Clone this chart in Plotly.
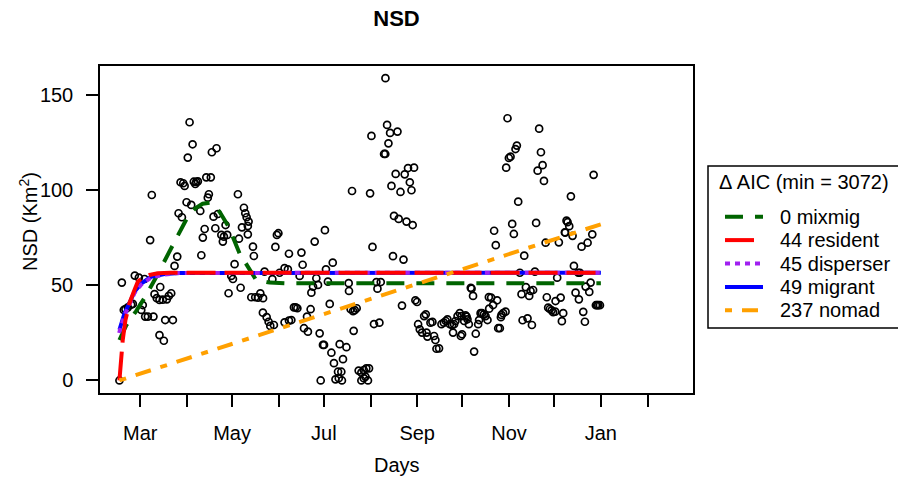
import pandas as pd
import plotly.graph_objects as go

ORIGIN = pd.Timestamp("2009-03-01")

# observed NSD: days since 1 March, NSD (Km^2)
obs_day = [-13.8, -12.2, -9.8, -8.2, -6.0, -4.9, -10.9, -3.6, -0.9, 2.9, 0.7, 1.7, 3.3, 5.1, 8.8,
           6.6, 7.7, 9.5, 11.0, 12.8, 15.0, 17.7, 19.0, 20.6, 13.3, 16.6, 21.7, 12.8, 15.7,
           22.8, 24.6, 25.5, 27.7, 26.8, 28.6, 29.5, 31.6, 32.8, 34.8, 30.8, 33.9, 35.6, 37.2,
           38.3, 36.6, 39.9, 40.6, 41.6, 42.8, 43.9, 46.9, 45.6, 44.9, 47.6, 50.7, 48.7, 51.6,
           49.9, 53.9, 55.6, 57.8, 54.9, 56.7, 58.7, 60.5, 61.6, 62.7, 65.6, 64.9, 66.7, 67.6,
           68.9, 69.8, 70.7, 72.0, 71.5, 71.5, 74.9, 75.5, 73.8, 76.4, 78.3, 79.8, 81.6, 81.5,
           84.0, 85.3, 86.4, 88.8, 87.8, 82.6, 89.8, 90.8, 91.8, 92.6, 95.9, 98.1, 98.8, 102.1,
           103.3, 104.4, 95.9, 98.8, 100.4, 113.2, 110.8, 108.8, 111.4, 107.1, 107.9, 105.9,
           115.9, 117.0, 118.1, 114.8, 113.7, 122.7, 123.4, 127.9, 124.7, 125.9, 119.2, 121.4,
           122.1, 119.9, 127.0, 128.7, 132.5, 137.0, 134.7, 131.4, 133.6, 129.7, 131.9, 134.0,
           138.5, 138.7, 139.8, 141.4, 142.5, 143.8, 141.8, 140.7, 145.1, 146.9, 148.5, 150.2,
           152.0, 146.9, 148.5, 149.6, 151.3, 152.7, 153.6, 154.3, 155.3, 156.9, 159.8, 157.6,
           158.9, 162.0, 162.8, 162.9, 164.0, 166.0, 170.9, 164.9, 166.9, 169.7, 175.7, 172.9,
           177.9, 181.9, 179.1, 180.2, 168.6, 171.7, 176.9, 181.0, 167.9, 174.9, 173.9, 182.8,
           183.9, 184.6, 185.7, 187.2, 188.6, 189.7, 190.2, 190.8, 192.8, 194.1, 195.2, 196.1,
           196.8, 198.5, 200.1, 201.7, 203.0, 204.1, 205.7, 207.2, 208.5, 209.4, 210.8, 212.3,
           213.4, 207.8, 213.0, 213.8, 215.2, 216.1, 216.8, 217.4, 218.3, 219.6, 220.1, 221.1,
           221.8, 222.9, 224.5, 225.1, 226.1, 227.1, 228.3, 229.4, 230.7, 231.6, 233.1, 234.4,
           237.1, 231.8, 240.0, 241.1, 242.7, 239.6, 237.8, 238.9, 235.1, 236.2, 248.2, 255.1,
           252.2, 262.2, 253.3, 256.2, 258.4, 259.3, 261.0, 254.0, 257.3, 260.2, 269.3, 270.1,
           271.0, 272.1, 273.3, 274.3, 275.7, 275.9, 279.3, 277.0, 278.1, 281.0, 280.1, 282.3,
           287.2, 288.1, 289.2, 291.4, 291.0, 292.1, 293.2, 294.3, 295.4, 295.9, 297.2, 298.3,
           299.2, 300.3, 302.7, 303.5, 304.3, 305.4, 244.0, 265.0, 250.2, 249.3, 246.0, 244.9,
           266.2, 267.3, 264.0, 268.2, 243.1, 301.2, 251.1, 286.1, 283.2, 283.9, 285.0, 282.1,
           263.0, 247.1]
obs_nsd = [0.0, 51.5, 37.5, 38.5, 39.9, 40.3, 37.1, 55.2, 54.1, 53.4, 37.1, 39.7, 33.6, 33.6, 33.6,
           73.9, 97.6, 45.4, 43.3, 42.4, 42.5, 42.7, 44.5, 45.9, 49.2, 31.8, 31.8, 23.9, 20.9,
           60.3, 65.2, 88.0, 85.9, 104.3, 103.8, 102.4, 117.3, 135.9, 124.3, 93.8, 92.4, 104.6, 104.5,
           104.8, 103.4, 89.2, 65.9, 75.2, 79.7, 106.9, 106.9, 98.0, 96.2, 120.1, 122.2, 86.2, 87.6,
           80.1, 76.6, 75.7, 76.6, 73.1, 81.8, 45.9, 55.0, 53.4, 61.2, 74.6, 98.0, 48.8, 80.6,
           90.9, 88.0, 85.9, 83.6, 81.3, 76.9, 70.4, 65.5, 43.8, 43.8, 43.6, 45.8, 43.3, 35.7,
           33.3, 30.9, 28.7, 29.2, 53.3, 57.3, 70.3, 76.6, 77.5, 56.7, 59.1, 58.5, 66.7, 38.5,
           38.5, 38.0, 30.6, 31.5, 31.8, 37.5, 33.6, 27.5, 25.7, 67.3, 60.9, 55.0,
           73.1, 53.8, 50.3, 49.4, 46.2, 79.1, 58.5, 62.0, 52.0, 40.3, 24.8, 18.7,
           18.7, 0.0, 14.6, 9.1, 19.1, 17.5, 11.2, 4.6, 4.6, 0.6, 1.2, 0.0,
           51.2, 47.1, 37.5, 36.5, 37.0, 38.0, 26.1, 99.7, 5.2, 4.1, 5.5, 6.4,
           6.4, 0.0, 1.2, 2.0, 0.0, 98.5, 128.7, 70.3, 29.7, 51.8, 51.8, 48.3,
           30.4, 119.2, 119.2, 159.1, 134.5, 130.3, 131.0, 124.8, 102.4, 108.7, 108.5, 99.2,
           111.8, 112.0, 104.3, 100.1, 86.6, 85.0, 83.6, 81.8, 65.4, 63.6, 39.4, 42.2,
           41.3, 29.6, 26.9, 25.2, 33.9, 34.8, 25.2, 23.1, 30.4, 30.8, 23.4, 21.3,
           16.7, 16.9, 29.6, 30.4, 31.3, 32.2, 29.6, 29.1, 29.6, 31.3, 33.9, 35.4,
           33.9, 25.2, 23.4, 24.3, 31.3, 34.3, 33.6, 32.2, 29.6, 48.8, 48.3, 44.5,
           15.2, 24.6, 29.6, 31.8, 35.4, 35.4, 34.8, 33.9, 31.8, 43.9, 43.6, 39.7,
           42.2, 37.8, 34.5, 35.4, 36.2, 33.3, 27.5, 27.5, 78.8, 71.2, 77.1, 65.7,
           56.7, 57.3, 45.4, 49.1, 44.5, 47.1, 47.6, 31.7, 32.7, 29.2, 72.5, 43.8,
           38.3, 37.6, 36.9, 35.9, 36.2, 41.8, 43.6, 54.1, 72.7, 35.4, 31.2, 77.8,
           76.1, 60.3, 46.2, 42.7, 56.7, 56.7, 70.4, 36.1, 30.9, 49.4, 72.5, 46.6,
           51.5, 76.9, 39.6, 39.6, 39.6, 39.6, 138.0, 132.5, 123.6, 121.8, 117.8, 117.1,
           120.1, 113.3, 110.4, 105.0, 112.0, 108.2, 94.1, 96.9, 84.1, 83.3, 81.2, 78.0,
           82.9, 82.4]

# fitted model curves (days since 1 March, NSD)
mixmig_day = [-13.8, -9.3, -2.7, 2.5, 10.0, 16.2, 21.7, 31.6, 36.6, 41.5, 46.7, 52.7, 58.7, 66.0,
              72.7, 77.0, 86.0, 97.0, 306.0]
mixmig_nsd = [21.3, 29.0, 36.5, 43.0, 53.5, 63.4, 71.3, 86.2, 90.6, 93.0, 93.6, 88.8, 80.9, 66.9,
              58.2, 52.9, 51.5, 51.1, 51.1]
resident_day = [-13.8, -11.6, -9.8, -7.1, -3.8, -1.6, 1.1, 6.2, 11.7, 20.0, 306.0]
resident_nsd = [0.0, 21.3, 31.8, 40.8, 47.6, 52.0, 53.8, 55.5, 56.4, 56.7, 56.7]
disperser_day = [-14.0, -10.6, -7.1, -3.8, 0.7, 7.3, 16.2, 26.0, 306.0]
disperser_nsd = [25.0, 34.0, 40.0, 46.0, 50.5, 54.2, 55.8, 56.6, 56.7]
migrant_day = [-13.8, -10.4, -7.1, -3.8, 0.7, 7.3, 16.2, 26.0, 306.0]
migrant_nsd = [26.6, 35.4, 40.8, 46.7, 51.0, 54.6, 56.0, 56.6, 56.7]
nomad_day = [-13.8, 306.0]
nomad_nsd = [0.0, 82.2]

legend_title = "\u0394 AIC (min = 3072)"
legend_labels = ["0 mixmig", "44 resident", "45 disperser", "49 migrant", "237 nomad"]

label_ticks = pd.date_range("2009-03-01", "2010-01-01", freq="2MS")
label_text = ["Mar", "May", "Jul", "Sep", "Nov", "Jan"]
minor_ticks = pd.date_range("2009-04-01", "2010-02-01", freq="2MS")


def to_dates(days):
    return [ORIGIN + pd.Timedelta(days=d) for d in days]


FONT = "Liberation Sans, Arial, Helvetica, sans-serif"
FS = 20
W, H = 898, 483
L, R, T, B = 100, 205, 66, 90
PW, PH = W - L - R, H - T - B


def px(x):
    return (x - L) / PW


def py(y):
    return (H - B - y) / PH


styles = [
    dict(color="#006400", dash="18px,12px"),       # mixmig
    dict(color="#ff0000", dash="29px,9px"),        # resident
    dict(color="#a020f0", dash="5px,5px"),         # disperser
    dict(color="#0000ff", dash="solid"),           # migrant
    dict(color="#ffa000", dash="7px,10px,16px,10px"),  # nomad
]
LW = 4

fig = go.Figure()
fig.add_trace(go.Scatter(
    x=to_dates(obs_day), y=obs_nsd, mode="markers",
    marker=dict(symbol="circle-open", size=7, color="black", line=dict(width=1.7, color="black")),
    showlegend=False, hoverinfo="skip"))

curves = [
    (mixmig_day, mixmig_nsd, styles[0]),
    (migrant_day, migrant_nsd, styles[3]),
    (disperser_day, disperser_nsd, styles[2]),
    (resident_day, resident_nsd, styles[1]),
    (nomad_day, nomad_nsd, styles[4]),
]
for d, v, st in curves:
    fig.add_trace(go.Scatter(x=to_dates(d), y=v, mode="lines",
                             line=dict(color=st["color"], dash=st["dash"], width=LW),
                             showlegend=False, hoverinfo="skip"))

shapes = []
annotations = []
# legend box
shapes.append(dict(type="rect", xref="paper", yref="paper",
                   x0=px(708), x1=px(910), y0=py(328), y1=py(166),
                   line=dict(color="black", width=1.5), fillcolor="rgba(0,0,0,0)"))
annotations.append(dict(text=legend_title, xref="paper", yref="paper", x=px(717), y=py(182),
                        xanchor="left", yanchor="middle", showarrow=False,
                        font=dict(family=FONT, size=FS, color="black")))
for i, (lab, st) in enumerate(zip(legend_labels, styles)):
    yy = 216.7 + i * 23.4
    shapes.append(dict(type="line", xref="paper", yref="paper",
                       x0=px(725), x1=px(763), y0=py(yy), y1=py(yy),
                       line=dict(color=st["color"], dash=st["dash"], width=LW)))
    annotations.append(dict(text=lab, xref="paper", yref="paper", x=px(778), y=py(yy),
                            xanchor="left", yanchor="middle", showarrow=False,
                            font=dict(family=FONT, size=FS, color="black")))

annotations.append(dict(text="Days", xref="paper", yref="paper", x=0.5, y=py(465),
                        xanchor="center", yanchor="middle", showarrow=False,
                        font=dict(family=FONT, size=FS, color="black")))
annotations.append(dict(text="NSD (Km<sup>2</sup>)", xref="paper", yref="paper", x=px(28), y=py(222),
                        xanchor="center", yanchor="middle", showarrow=False, textangle=-90,
                        font=dict(family=FONT, size=FS, color="black")))

fig.update_layout(
    width=W, height=H,
    margin=dict(l=L, r=R, t=T, b=B),
    paper_bgcolor="white", plot_bgcolor="white",
    font=dict(family=FONT, size=FS, color="black"),
    title=dict(text="<b>NSD</b>", x=0.5, xref="paper", xanchor="center",
               y=1 - 18 / H, yref="container", yanchor="middle",
               font=dict(family=FONT, size=22, color="black")),
    shapes=shapes, annotations=annotations,
    showlegend=False,
)
fig.update_xaxes(type="date",
                 range=[pd.Timestamp("2009-02-02 07:00"), pd.Timestamp("2010-03-03 05:00")],
                 tickmode="array", tickvals=list(label_ticks), ticktext=label_text,
                 ticks="outside", ticklen=12, tickwidth=1.5, tickcolor="black",
                 minor=dict(tickmode="array", tickvals=list(minor_ticks), ticks="outside",
                            ticklen=12, tickwidth=1.5, tickcolor="black", showgrid=False),
                 showline=True, mirror=True, linecolor="black", linewidth=1.5,
                 showgrid=False, zeroline=False, ticklabelstandoff=9,
                 tickfont=dict(family=FONT, size=FS, color="black"))
fig.update_yaxes(range=[-6.6, 165.5], tickmode="array", tickvals=[0, 50, 100, 150],
                 ticks="outside", ticklen=12, tickwidth=1.5, tickcolor="black",
                 showline=True, mirror=True, linecolor="black", linewidth=1.5,
                 showgrid=False, zeroline=False, ticklabelstandoff=9,
                 tickfont=dict(family=FONT, size=FS, color="black"))

fig.write_html("out.html")
